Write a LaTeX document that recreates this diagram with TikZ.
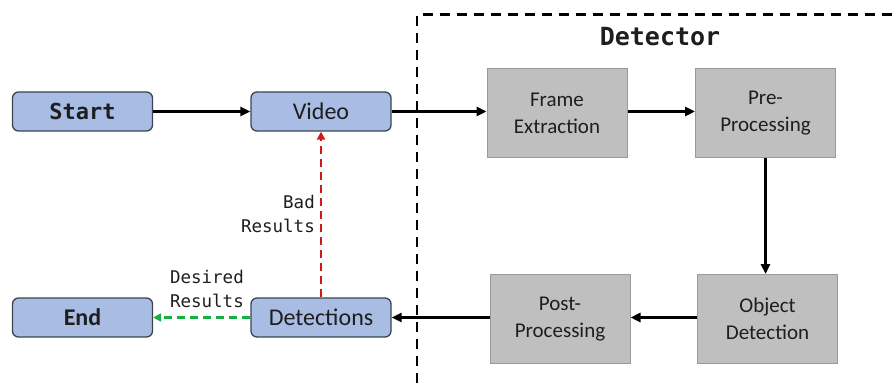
\documentclass[tikz,border=0pt]{standalone}
\usepackage{fontspec}
\setmainfont{Carlito}
\newfontfamily\monofont{DejaVu Sans Mono}
\usetikzlibrary{arrows.meta,positioning}
\definecolor{boxblue}{HTML}{A9BDE4}
\definecolor{boxblueline}{HTML}{3C4450}
\definecolor{boxgray}{HTML}{BFBFBF}
\definecolor{boxgrayline}{HTML}{9A9A9A}
\definecolor{txt}{HTML}{1E1E1E}
\definecolor{badred}{HTML}{D01818}
\definecolor{goodgreen}{HTML}{14B040}
\tikzset{
  bluebox/.style={draw=boxblueline, fill=boxblue, line width=1.3pt, rounded corners=6pt,
    minimum width=140pt, minimum height=39pt, inner sep=0pt, text=txt},
  graybox/.style={draw=boxgrayline, fill=boxgray, line width=1pt,
    minimum width=140pt, minimum height=89pt, inner sep=0pt, text=txt, align=center,
    font=\fontsize{21}{27}\selectfont},
  flow/.style={line width=2.6pt, -{Triangle[length=10pt,width=9pt]}},
  lbl/.style={font=\monofont\fontsize{17.5}{24}\selectfont, text=txt, align=right, inner sep=0pt},
  fb/.style={line width=2.2pt, dash pattern=on 8pt off 5pt, -{Triangle[length=8pt,width=8pt]}},
}
\begin{document}
\begin{tikzpicture}[x=1pt,y=-1pt]
\useasboundingbox (0,0) rectangle (896,387);
\begin{scope}
\clip (0,0) rectangle (896,387);
\draw[line width=2.4pt, dash pattern=on 10pt off 7pt] (417,400) -- (417,14.5) -- (910,14.5);
\end{scope}
\node[font=\monofont\bfseries\fontsize{25}{30}\selectfont, text=txt] (det) at (660,37) {Detector};

\node[bluebox, font=\monofont\bfseries\fontsize{22}{26}\selectfont] (start) at (82.5,111.5) {Start};
\node[bluebox, font=\fontsize{24}{28}\selectfont] (video) at (321,111.5) {Video};
\node[graybox] (frame) at (557,113) {Frame\\Extraction};
\node[graybox] (pre) at (765.5,113) {Pre-\\Processing};
\node[graybox] (obj) at (767.5,319) {Object\\Detection};
\node[graybox] (post) at (560,319) {Post-\\Processing};
\node[bluebox, font=\fontsize{24}{28}\selectfont] (dets) at (321,317.5) {Detections};
\node[bluebox, font=\bfseries\fontsize{24}{28}\selectfont] (end) at (82.5,317.5) {End};

\draw[flow] (start) -- (video);
\draw[flow] (video) -- (video -| frame.west);
\draw[flow] (frame.east |- video) -- (pre.west |- video);
\draw[flow] (pre.south) -- (pre.south |- obj.north);
\draw[flow] (obj.west |- dets) -- (post.east |- dets);
\draw[flow] (post.west |- dets) -- (dets);
\draw[fb, badred] (dets.north) -- (video.south);
\draw[fb, goodgreen] (dets.west) -- (end.east);

\node[lbl, anchor=east] (bad) at (315,214) {Bad\\Results};
\node[lbl, anchor=east] (desired) at (244,288.5) {Desired\\Results};
\end{tikzpicture}
\end{document}
